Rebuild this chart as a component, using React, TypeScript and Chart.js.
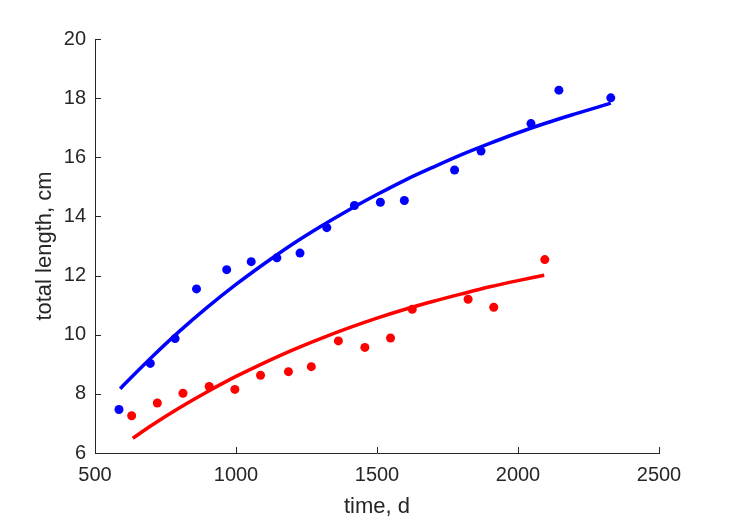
import React, { useEffect, useRef } from "react";
import { Chart, registerables } from "chart.js";

Chart.register(...registerables);

// Observed data (blue group)
const blueTime = [585, 696, 784, 860, 967, 1054, 1145, 1227, 1322, 1420, 1512, 1597, 1775, 1869, 2046, 2145, 2329];
const blueLength = [7.47, 9.03, 9.87, 11.55, 12.2, 12.47, 12.6, 12.76, 13.62, 14.37, 14.48, 14.54, 15.57, 16.21, 17.14, 18.27, 18.01];

// Observed data (red group)
const redTime = [630, 721, 812, 905, 996, 1087, 1186, 1267, 1363, 1457, 1548, 1625, 1823, 1914, 2095];
const redLength = [7.26, 7.69, 8.02, 8.25, 8.15, 8.63, 8.75, 8.92, 9.79, 9.57, 9.89, 10.86, 11.2, 10.93, 12.54];

// Fitted curves
const blueFitTime = [589, 600, 700, 800, 900, 1000, 1100, 1200, 1300, 1400, 1500, 1600, 1700, 1800, 1900, 2000, 2100, 2200, 2329];
const blueFitLength = [8.17, 8.28, 9.23, 10.12, 10.94, 11.7, 12.4, 13.06, 13.66, 14.22, 14.74, 15.23, 15.67, 16.09, 16.47, 16.83, 17.16, 17.46, 17.83];
const redFitTime = [634, 700, 800, 900, 1000, 1100, 1200, 1300, 1400, 1500, 1600, 1700, 1800, 1900, 2000, 2093];
const redFitLength = [6.5, 6.93, 7.53, 8.08, 8.59, 9.05, 9.48, 9.87, 10.23, 10.56, 10.86, 11.13, 11.38, 11.62, 11.83, 12.01];

// Axes
const xTicks = [500, 1000, 1500, 2000, 2500];
const yTicks = [6, 8, 10, 12, 14, 16, 18, 20];
const xTitle = "time, d";
const yTitle = "total length, cm";

const AXIS_COLOR = "#262626";
const FONT = "'Liberation Sans', Arial, Helvetica, sans-serif";

const zip = (xs: number[], ys: number[]) => xs.map((x, i) => ({ x, y: ys[i] }));

const inwardTicks = {
  id: "inwardTicks",
  afterDraw(chart: any) {
    const { ctx, chartArea, scales } = chart;
    const len = 6;
    ctx.save();
    ctx.strokeStyle = AXIS_COLOR;
    ctx.lineWidth = 1;
    ctx.beginPath();
    xTicks.forEach((v) => {
      const px = Math.round(scales.x.getPixelForValue(v)) + 0.5;
      ctx.moveTo(px, chartArea.bottom);
      ctx.lineTo(px, chartArea.bottom - len);
    });
    yTicks.forEach((v) => {
      const py = Math.round(scales.y.getPixelForValue(v)) + 0.5;
      ctx.moveTo(chartArea.left, py);
      ctx.lineTo(chartArea.left + len, py);
    });
    ctx.stroke();
    ctx.restore();
  },
};

export default function App() {
  const ref = useRef<HTMLCanvasElement | null>(null);

  useEffect(() => {
    if (!ref.current) return;
    const chart = new Chart(ref.current, {
      type: "scatter",
      data: {
        datasets: [
          {
            label: "blue observed",
            data: zip(blueTime, blueLength),
            backgroundColor: "#0000ff",
            borderColor: "#0000ff",
            pointRadius: 4.5,
            pointBorderWidth: 0,
            showLine: false,
          },
          {
            label: "red observed",
            data: zip(redTime, redLength),
            backgroundColor: "#ff0000",
            borderColor: "#ff0000",
            pointRadius: 4.5,
            pointBorderWidth: 0,
            showLine: false,
          },
          {
            label: "blue fit",
            data: zip(blueFitTime, blueFitLength),
            borderColor: "#0000ff",
            backgroundColor: "#0000ff",
            borderWidth: 3.5,
            pointRadius: 0,
            showLine: true,
            cubicInterpolationMode: "monotone",
          },
          {
            label: "red fit",
            data: zip(redFitTime, redFitLength),
            borderColor: "#ff0000",
            backgroundColor: "#ff0000",
            borderWidth: 3.5,
            pointRadius: 0,
            showLine: true,
            cubicInterpolationMode: "monotone",
          },
        ],
      },
      options: {
        animation: false,
        responsive: false,
        maintainAspectRatio: false,
        layout: { padding: { top: 39, right: 70, left: 0, bottom: 0 } },
        plugins: {
          legend: { display: false },
          tooltip: { enabled: false },
        },
        scales: {
          x: {
            type: "linear",
            min: 500,
            max: 2500,
            afterFit: (s: any) => {
              s.height = 68;
            },
            afterBuildTicks: (s: any) => {
              s.ticks = xTicks.map((v) => ({ value: v }));
            },
            grid: { display: false, drawTicks: false },
            border: { display: true, color: AXIS_COLOR, width: 1 },
            ticks: {
              padding: 10,
              color: AXIS_COLOR,
              font: { family: FONT, size: 20 },
              maxRotation: 0,
              callback: (v: any) => String(v),
            },
            title: {
              display: true,
              text: xTitle,
              color: AXIS_COLOR,
              font: { family: FONT, size: 22 },
              padding: { top: 0, bottom: 1 },
            },
          },
          y: {
            type: "linear",
            min: 6,
            max: 20,
            afterFit: (s: any) => {
              s.width = 95;
            },
            afterBuildTicks: (s: any) => {
              s.ticks = yTicks.map((v) => ({ value: v }));
            },
            grid: { display: false, drawTicks: false },
            border: { display: true, color: AXIS_COLOR, width: 1 },
            ticks: {
              padding: 9,
              color: AXIS_COLOR,
              font: { family: FONT, size: 20 },
              callback: (v: any) => String(v),
            },
            title: {
              display: true,
              text: yTitle,
              color: AXIS_COLOR,
              font: { family: FONT, size: 22 },
              padding: { top: 32, bottom: 0 },
            },
          },
        },
      },
      plugins: [inwardTicks],
    } as any);
    return () => chart.destroy();
  }, []);

  return (
    <div style={{ position: "fixed", left: 0, top: 0, width: 729, height: 521, background: "#ffffff" }}>
      <canvas ref={ref} width={729} height={521} style={{ display: "block", width: 729, height: 521 }} />
    </div>
  );
}
